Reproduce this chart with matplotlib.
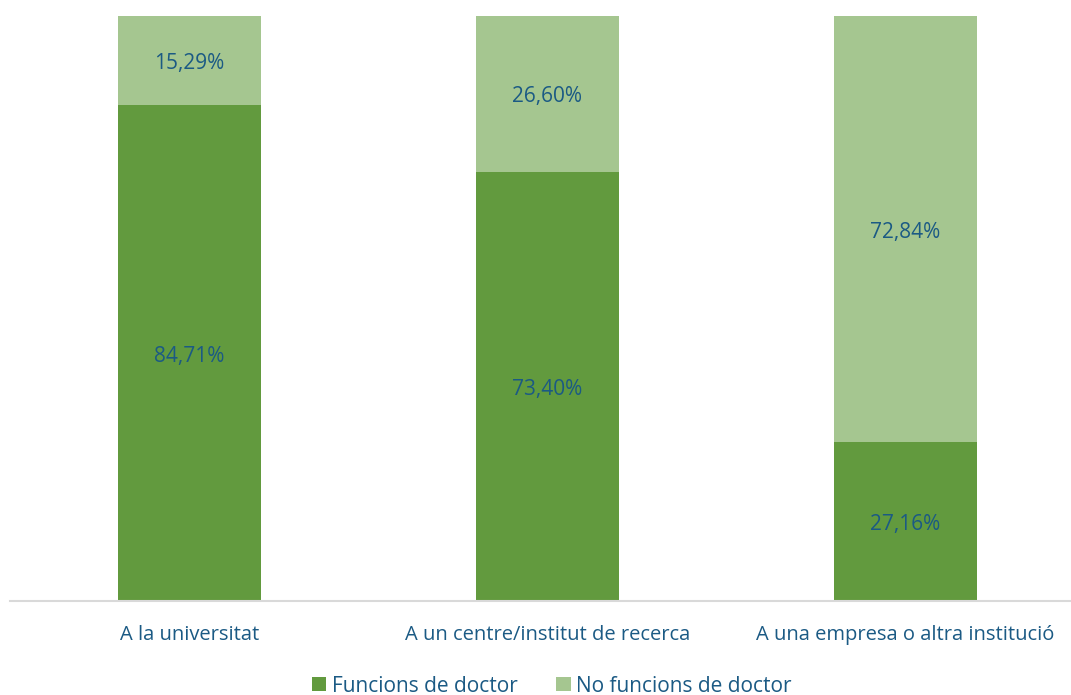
import numpy as np
import matplotlib.pyplot as plt
import matplotlib.transforms as mtransforms

categories = ["A la universitat", "A un centre/institut de recerca", "A una empresa o altra institució"]
funcions = [84.71, 73.40, 27.16]
no_funcions = [15.29, 26.60, 72.84]
series_names = ["Funcions de doctor", "No funcions de doctor"]

dark = "#629A3E"
light = "#A5C690"
txt = "#1B5A84"

plt.rcParams['font.family'] = ['Open Sans', 'DejaVu Sans']

fig = plt.figure(figsize=(10.71, 6.95), dpi=100)
ax = fig.add_axes([10 / 1071, 94 / 695, 1 - 10 / 1071, 585 / 695])

x = np.arange(len(categories))
b1 = ax.bar(x, funcions, width=0.4, color=dark, label=series_names[0])
b2 = ax.bar(x, no_funcions, width=0.4, bottom=funcions, color=light, label=series_names[1])

def fmt(v):
    return "{:.2f}%".format(v).replace(".", ",")

# etiquetes de valor al centre de cada segment (una mica avall, com a l'original)
shift = mtransforms.offset_copy(ax.transData, fig=fig, x=0, y=-3, units='dots')
for i in range(len(categories)):
    ax.text(x[i], funcions[i] / 2, fmt(funcions[i]), ha='center', va='center',
            color=txt, fontsize=15, transform=shift)
    ax.text(x[i], funcions[i] + no_funcions[i] / 2, fmt(no_funcions[i]), ha='center',
            va='center', color=txt, fontsize=15, transform=shift)

ax.set_xlim(-0.501, 2.462)
ax.set_ylim(0, 100)
ax.set_xticks(x)
ax.set_xticklabels(categories, color=txt, fontsize=14.5)
ax.tick_params(axis='x', length=0, pad=17)
ax.set_yticks([])
for s in ['top', 'right', 'left']:
    ax.spines[s].set_visible(False)
ax.spines['bottom'].set_color('#D9D9D9')
ax.spines['bottom'].set_linewidth(1.5)

leg = fig.legend(handles=[b1, b2], loc='center', bbox_to_anchor=(552 / 1071, 1 - 686 / 695),
                 ncol=2, frameon=False, fontsize=15, handlelength=0.68, handleheight=0.68,
                 handletextpad=0.28, columnspacing=1.85)
for t in leg.get_texts():
    t.set_color(txt)

fig.savefig("out.png", dpi=100)
